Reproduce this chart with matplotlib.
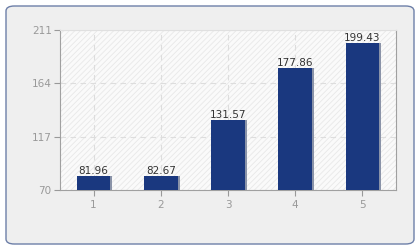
import matplotlib
matplotlib.use("Agg")
import matplotlib.pyplot as plt
from matplotlib.patches import FancyBboxPatch, Rectangle

categories = ["1", "2", "3", "4", "5"]
values = [81.96, 82.67, 131.57, 177.86, 199.43]
yticks = [70, 117, 164, 211]

plt.rcParams['hatch.linewidth'] = 0.6
fig = plt.figure(figsize=(4.2, 2.5), dpi=100)
fig.patch.set_facecolor("white")
frame = FancyBboxPatch((6/420, 6/250), 408/420, 238/250,
                       boxstyle="round,pad=0,rounding_size=0.02",
                       transform=fig.transFigure, facecolor="#efefef",
                       edgecolor="#6d7fa8", linewidth=1.0, zorder=-10)
fig.add_artist(frame)

ax = fig.add_axes([60/420, 60/250, 336/420, 160/250])
ax.set_zorder(1)
ax.set_facecolor("#fafafa")
ax.add_patch(Rectangle((0, 0), 1, 1, transform=ax.transAxes, facecolor="none",
                       edgecolor="#e8e8e8", hatch="//////", linewidth=0, zorder=0))

x = list(range(len(categories)))
# shadow
ax.bar([i + 0.03 for i in x], [v - 70 for v in values], width=0.5, bottom=70,
       color="#8a93a8", zorder=2)
ax.bar(x, [v - 70 for v in values], width=0.5, bottom=70, color="#1a387f", zorder=3)
for i, v in zip(x, values):
    ax.text(i, v, f"{v:.2f}", ha="center", va="bottom", fontsize=7.5,
            color="#333333", zorder=4)

ax.set_xlim(-0.5, 4.5)
ax.set_ylim(70, 211)
ax.set_xticks(x)
ax.set_xticklabels(categories)
ax.set_yticks(yticks)
ax.grid(True, color="#dddddd", linestyle=(0, (5, 4)), linewidth=0.8, zorder=1)
ax.set_axisbelow(True)
ax.tick_params(colors="#999999", labelsize=7.5, length=4, width=0.8)
ax.tick_params(axis="y", pad=2)
for s in ["left", "bottom", "right"]:
    ax.spines[s].set_color("#a0a0a0")
ax.spines["top"].set_color("#e0e0e0")

fig.savefig("out.png", dpi=100)
